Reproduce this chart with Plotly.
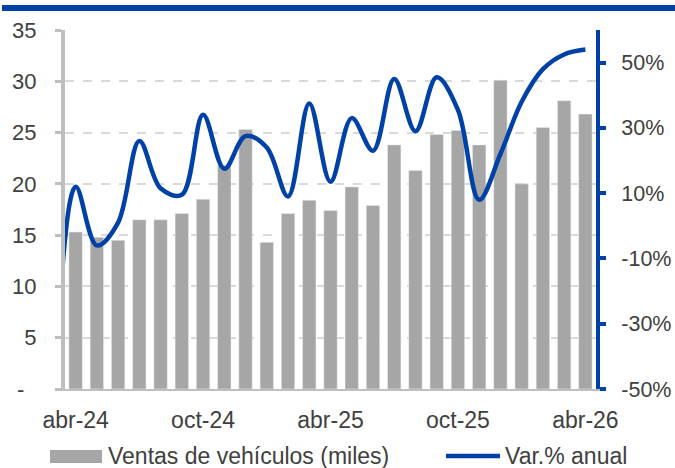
import plotly.graph_objects as go

# ---- data ----
months = ["abr-24", "may-24", "jun-24", "jul-24", "ago-24", "sep-24", "oct-24", "nov-24",
          "dic-24", "ene-25", "feb-25", "mar-25", "abr-25", "may-25", "jun-25", "jul-25",
          "ago-25", "sep-25", "oct-25", "nov-25", "dic-25", "ene-26", "feb-26", "mar-26",
          "abr-26"]
ventas = [15.3, 14.8, 14.5, 16.5, 16.5, 17.1, 18.5, 21.8, 25.3, 14.3, 17.1, 18.4, 17.4,
          19.7, 17.9, 23.8, 21.3, 24.8, 25.2, 23.8, 30.1, 20.0, 25.5, 28.1, 26.8]
# year-on-year change, %; first entry is the prior month (mar-24), outside the visible range
var_months = ["mar-24"] + months
var_anual = [-55, 12, -6, 1, 26, 11.5, 9.5, 34, 17.5, 27.5, 24, 9, 37.5, 13.5, 33, 23,
             45, 29, 45.5, 35.5, 8, 22, 38, 48, 52.5, 54]
xtick_labels = ["abr-24", "oct-24", "abr-25", "oct-25", "abr-26"]
ytick_left = [0, 5, 10, 15, 20, 25, 30, 35]
ytick_right = [-50, -30, -10, 10, 30, 50]

# ---- styles ----
BLUE = "#0041A8"
BAR = "#A6A6A6"
AXIS_GRAY = "#BFBFBF"
TXT = "#404040"
FONT = "Liberation Sans, Arial, sans-serif"

bar_x = list(range(len(months)))
line_x = list(range(-1, len(months)))
label_pos = [months.index(m) for m in xtick_labels]
boundary_pos = [p - 0.5 for p in label_pos]

fig = go.Figure()
fig.add_trace(go.Bar(x=bar_x, y=ventas, marker_color=BAR, name="Ventas de vehículos (miles)",
                     showlegend=False, hoverinfo="skip"))
fig.add_trace(go.Scatter(x=line_x, y=var_anual, mode="lines", yaxis="y2",
                         line=dict(color=BLUE, width=4.5, shape="spline", smoothing=1),
                         name="Var.% anual", showlegend=False, hoverinfo="skip"))

xr = [-0.5, len(months) - 0.5]
fig.update_layout(
    width=675, height=468,
    margin=dict(l=65, r=79, t=30, b=79),
    paper_bgcolor="white", plot_bgcolor="white",
    font=dict(family=FONT, size=22, color=TXT),
    bargap=0.37,
    xaxis=dict(range=xr, tickvals=label_pos, ticktext=xtick_labels, ticks="",
               showgrid=False, zeroline=False, showline=True, linecolor=AXIS_GRAY,
               linewidth=2, tickfont=dict(size=23), ticklabelstandoff=9, automargin=False),
    xaxis2=dict(range=xr, overlaying="x", anchor="y", side="bottom", tickvals=boundary_pos,
                ticks="outside", ticklen=7, tickwidth=2, tickcolor=AXIS_GRAY,
                showticklabels=False, showgrid=False, zeroline=False, showline=False,
                automargin=False),
    yaxis=dict(range=[0, 35], tickvals=ytick_left,
               ticktext=["-\u00a0\u00a0"] + [str(v) for v in ytick_left[1:]],
               ticks="outside", ticklen=6, tickwidth=3, tickcolor=AXIS_GRAY,
               showline=True, linecolor=AXIS_GRAY, linewidth=4,
               showgrid=True, gridcolor="#D9D9D9", gridwidth=1.5, griddash="dash",
               zeroline=False, ticklabelstandoff=14, automargin=False),
    yaxis2=dict(range=[-50, 60], tickvals=ytick_right,
                ticktext=[f"{v}%" for v in ytick_right], overlaying="y", side="right",
                ticks="outside", ticklen=6, tickwidth=4, tickcolor=BLUE,
                showline=True, linecolor=BLUE, linewidth=4, showgrid=False,
                zeroline=False, ticklabelstandoff=11, automargin=False,
                tickfont=dict(size=21.5)),
)

# helpers to place decorations in paper coordinates from pixel positions
H = 359.0
W = 531.0
def px_x(px):
    return (px - 65) / W
def px_y(py):
    return (389 - py) / H

# top decorative band
fig.add_shape(type="rect", xref="paper", yref="paper", x0=px_x(2), x1=px_x(676),
              y0=px_y(11), y1=px_y(5), fillcolor=BLUE, line_width=0, layer="above")

# custom legend
fig.add_shape(type="rect", xref="paper", yref="paper", x0=px_x(50), x1=px_x(102),
              y0=px_y(463), y1=px_y(450), fillcolor=BAR, line_width=0)
fig.add_shape(type="line", xref="paper", yref="paper", x0=px_x(446), x1=px_x(500),
              y0=px_y(456), y1=px_y(456), line=dict(color=BLUE, width=4.5))
fig.add_annotation(xref="paper", yref="paper", x=px_x(106), y=px_y(456),
                   text="Ventas de vehículos (miles)", showarrow=False,
                   xanchor="left", yanchor="middle", font=dict(size=23, color=TXT))
fig.add_annotation(xref="paper", yref="paper", x=px_x(503), y=px_y(456),
                   text="Var.% anual", showarrow=False,
                   xanchor="left", yanchor="middle", font=dict(size=23, color=TXT))

fig.write_html("out.html", config={"displayModeBar": False},
               post_script="document.body.style.margin='0';document.body.style.overflow='hidden';")
